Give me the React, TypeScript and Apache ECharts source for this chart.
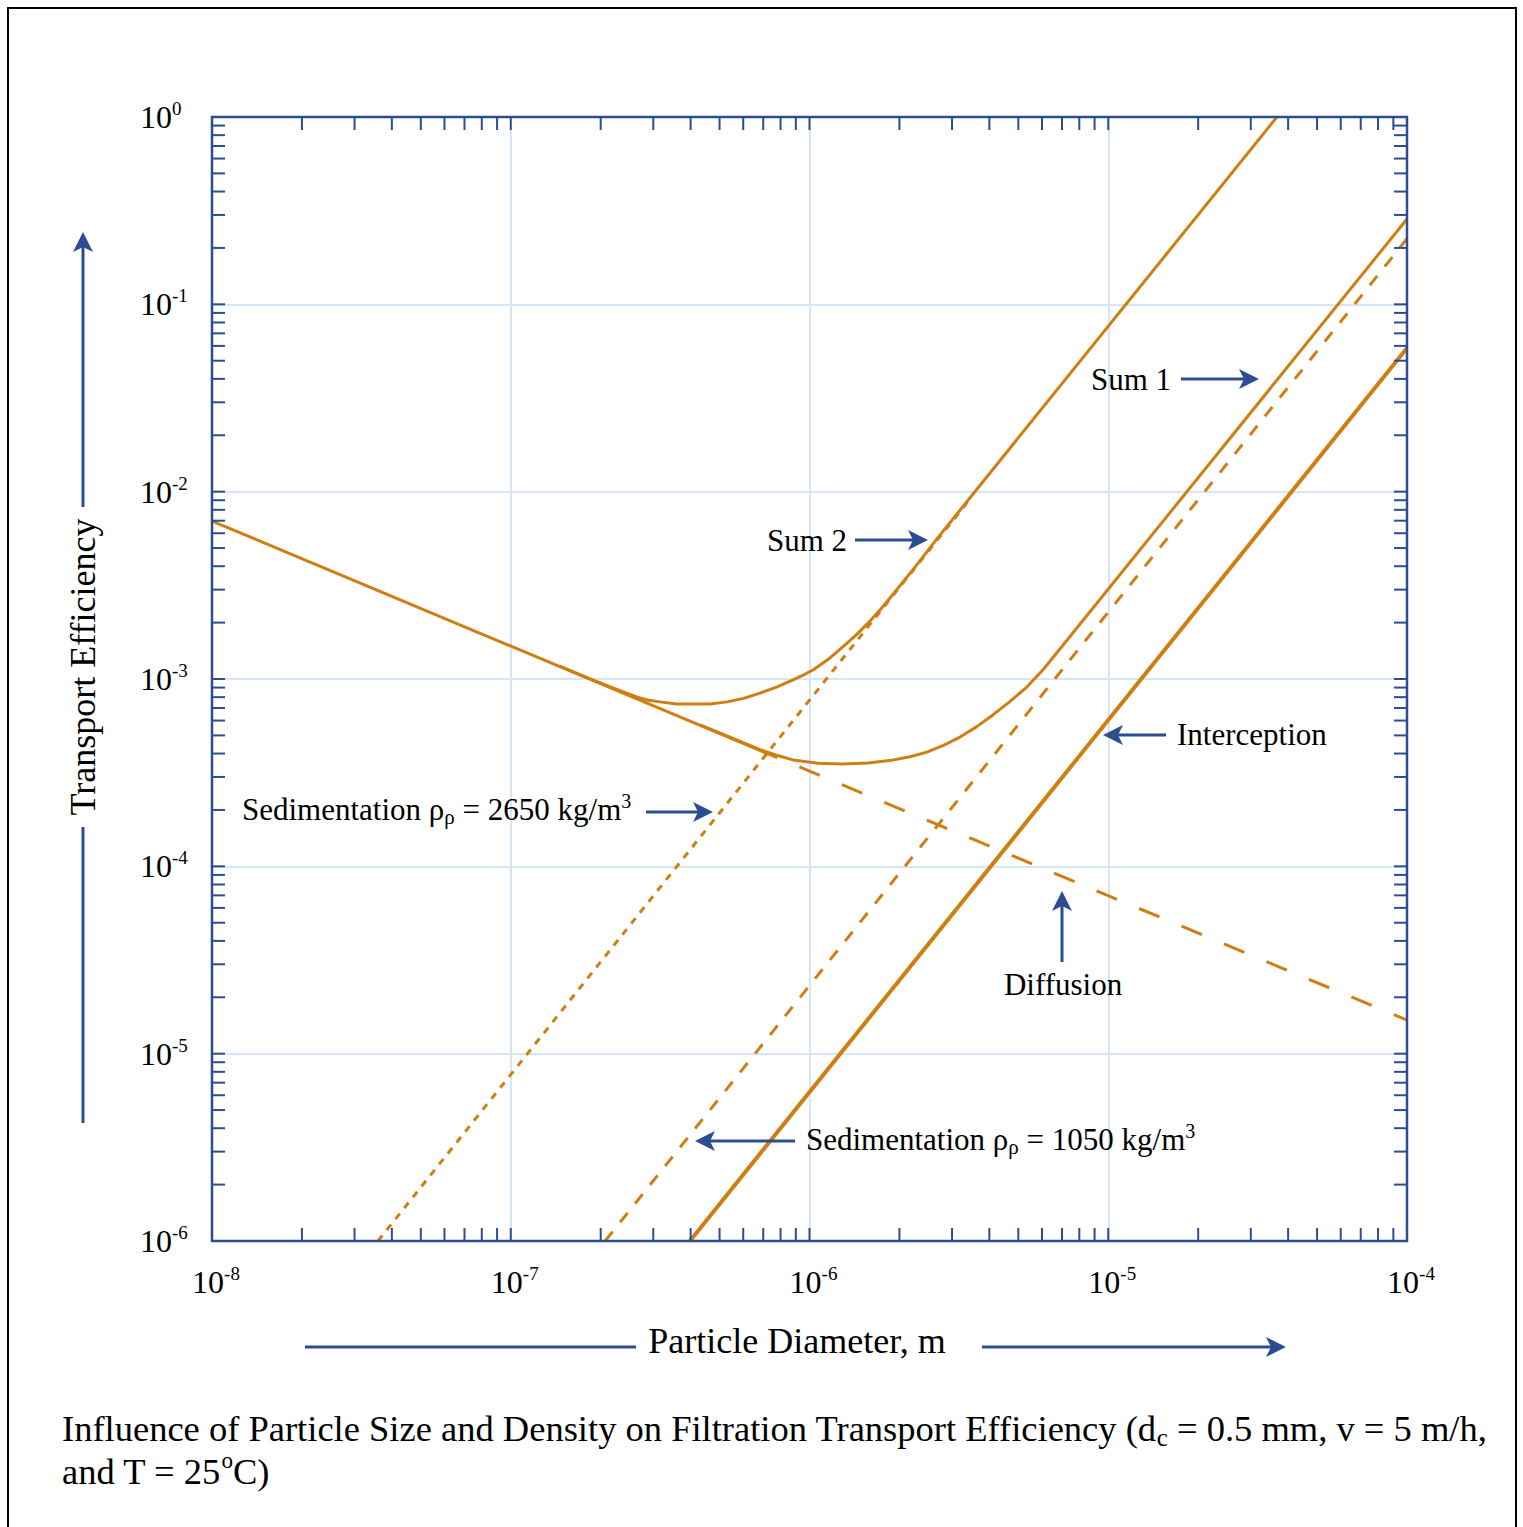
import React, { useEffect, useRef } from "react";
import * as echarts from "echarts";

const FONT = "'Liberation Serif', 'Times New Roman', Times, serif";
const ORANGE = "#CF7F11";
const BLUE = "#2C4D91";
const GRIDC = "#D5E6F7";

// ---- data ----
const diffusionSolidX = [1e-8, 7.8e-7];
const diffusionSolidY = [6.97e-3, 3.8e-4];
const diffusionDashX = [7.8e-7, 1e-4];
const diffusionDashY = [3.8e-4, 1.51e-5];
const interceptionX = [3.98e-7, 1e-4];
const interceptionY = [1e-6, 5.85e-2];
const sed1050X = [2.07e-7, 1e-4];
const sed1050Y = [1e-6, 0.224];
const sed2650X = [3.594e-8, 3.4e-6];
const sed2650Y = [1e-6, 8.9e-3];
const sum1X = [
  4.3e-7, 5.42e-7, 6.83e-7, 7.757e-7, 8.81e-7, 1.066e-6, 1.29e-6, 1.569e-6, 1.91e-6, 2.172e-6,
  2.47e-6, 2.807e-6, 3.19e-6, 3.621e-6, 4.11e-6, 4.683e-6, 5.34e-6, 6.069e-6, 6.9e-6, 1e-4,
];
const sum1Y = [
  5.69e-4, 4.887e-4, 4.2e-4, 3.918e-4, 3.7e-4, 3.551e-4, 3.52e-4, 3.563e-4, 3.7e-4, 3.849e-4,
  4.07e-4, 4.42e-4, 4.9e-4, 5.553e-4, 6.43e-4, 7.57e-4, 9.06e-4, 1.128e-3, 1.45e-3, 0.2855,
];
const sum2X = [
  1.46e-7, 1.657e-7, 1.88e-7, 2.232e-7, 2.65e-7, 2.893e-7, 3.16e-7, 3.585e-7, 4.07e-7, 4.645e-7,
  5.3e-7, 6.015e-7, 6.83e-7, 7.757e-7, 8.81e-7, 9.526e-7, 1.03e-6, 1.153e-6, 1.29e-6, 1.437e-6,
  1.6e-6, 1.748e-6, 1.91e-6, 2.258e-6, 2.67e-6, 3.67e-5,
];
const sum2Y = [
  1.17e-3, 1.074e-3, 9.9e-4, 8.87e-4, 8.0e-4, 7.698e-4, 7.55e-4, 7.356e-4, 7.35e-4, 7.356e-4,
  7.55e-4, 7.88e-4, 8.4e-4, 9.055e-4, 9.9e-4, 1.048e-3, 1.12e-3, 1.27e-3, 1.48e-3, 1.726e-3,
  2.05e-3, 2.4e-3, 2.85e-3, 3.967e-3, 5.6e-3, 1.0,
];

const xMin = 1e-8, xMax = 1e-4, yMin = 1e-6, yMax = 1;
const mantissas = [1, 2, 3, 4, 5, 6, 7, 8, 9];
const xTickDecades = [-8, -7, -6, -5];
const yTickDecades = [-6, -5, -4, -3, -2, -1];

function tickValues(decs: number[]) {
  const out: number[] = [];
  decs.forEach((e, i) =>
    mantissas.forEach((m) => {
      if (!(i === 0 && m === 1)) out.push(m * Math.pow(10, e));
    })
  );
  return out;
}

const zip = (xs: number[], ys: number[]) => xs.map((x, i) => [x, ys[i]]);

const tickRich = {
  b: { fontSize: 32, fontFamily: FONT, color: "#000", lineHeight: 36 },
  s: { fontSize: 19, fontFamily: FONT, color: "#000", lineHeight: 29, verticalAlign: "top" },
};

const annRich = {
  t: { fontSize: 31, fontFamily: FONT, fill: "#000", color: "#000", lineHeight: 36 },
  sub: { fontSize: 21, fontFamily: FONT, fill: "#000", color: "#000", lineHeight: 16, verticalAlign: "bottom" },
  sup: { fontSize: 20, fontFamily: FONT, fill: "#000", color: "#000", lineHeight: 28, verticalAlign: "top" },
};

const capRich = {
  t: { fontSize: 36.5, fontFamily: FONT, fill: "#000", color: "#000", lineHeight: 44 },
  sub: { fontSize: 25, fontFamily: FONT, fill: "#000", color: "#000", lineHeight: 20, verticalAlign: "bottom" },
  sup: { fontSize: 23, fontFamily: FONT, fill: "#000", color: "#000", lineHeight: 24, verticalAlign: "top" },
};

function txt(x: number, y: number, text: string, rich: any, align = "left", extra: any = {}) {
  return {
    type: "text",
    x,
    y,
    z: 20,
    silent: true,
    ...extra,
    style: {
      text,
      x: 0,
      y: 0,
      fill: "#000",
      fontSize: 31,
      fontFamily: FONT,
      align,
      verticalAlign: "middle",
      textAlign: align,
      textVerticalAlign: "middle",
      rich,
    },
  };
}

function arrow(x1: number, y1: number, x2: number, y2: number) {
  const ang = Math.atan2(y2 - y1, x2 - x1);
  const L = 20, W = 10, N = 15;
  const ux = Math.cos(ang), uy = Math.sin(ang);
  const px = -uy, py = ux;
  const bx = x2 - ux * L, by = y2 - uy * L;
  const nx = x2 - ux * N, ny = y2 - uy * N;
  return [
    { type: "line", z: 20, silent: true, shape: { x1, y1, x2: nx, y2: ny }, style: { stroke: BLUE, lineWidth: 3 } },
    {
      type: "polygon",
      z: 20,
      silent: true,
      shape: { points: [[x2, y2], [bx + px * W, by + py * W], [nx, ny], [bx - px * W, by - py * W]] },
      style: { fill: BLUE },
    },
  ];
}

function seg(x1: number, y1: number, x2: number, y2: number, color = BLUE, w = 3) {
  return { type: "line", z: 20, silent: true, shape: { x1, y1, x2, y2 }, style: { stroke: color, lineWidth: w } };
}

export default function App() {
  const ref = useRef<HTMLDivElement>(null);

  useEffect(() => {
    const el = ref.current!;
    const chart = echarts.init(el, null, { renderer: "svg" });
    const expLabel = (v: number) => `{b|10}{s|${Math.round(Math.log10(v))}}`;
    const lineSeries = (name: string, data: number[][], width: number, type: any, extra: any = {}) => ({
      name,
      type: "line",
      data,
      symbol: "none",
      showSymbol: false,
      silent: true,
      smooth: false,
      emphasis: { disabled: true },
      lineStyle: { color: ORANGE, width, type, cap: "butt", join: "round", ...(extra.lineStyle || {}) },
    });

    chart.setOption({
      animation: false,
      backgroundColor: "#fff",
      grid: { left: 212, top: 117, width: 1195, height: 1124, show: false, containLabel: false },
      xAxis: {
        type: "log",
        logBase: 10,
        min: xMin,
        max: xMax,
        splitNumber: 4,
        axisLine: { show: false },
        axisTick: { show: false },
        splitLine: { show: true, lineStyle: { color: GRIDC, width: 2 } },
        axisLabel: {
          formatter: expLabel,
          margin: 23,
          padding: [0, 0, 0, 8],
          rich: tickRich,
          showMinLabel: true,
          showMaxLabel: true,
        },
      },
      yAxis: {
        type: "log",
        logBase: 10,
        min: yMin,
        max: yMax,
        splitNumber: 6,
        axisLine: { show: false },
        axisTick: { show: false },
        splitLine: { show: true, lineStyle: { color: GRIDC, width: 2 } },
        axisLabel: {
          formatter: expLabel,
          margin: 72,
          align: "left",
          rich: tickRich,
          showMinLabel: true,
          showMaxLabel: true,
        },
      },
      series: [
        lineSeries("Diffusion", zip(diffusionSolidX, diffusionSolidY), 3, "solid"),
        lineSeries("Diffusion (dashed)", zip(diffusionDashX, diffusionDashY), 3, [22, 24], { lineStyle: { dashOffset: 22 } }),
        lineSeries("Interception", zip(interceptionX, interceptionY), 4, "solid"),
        lineSeries("Sedimentation 1050", zip(sed1050X, sed1050Y), 3, [12, 12]),
        lineSeries("Sedimentation 2650", zip(sed2650X, sed2650Y), 3, [7, 7]),
        lineSeries("Sum 1", zip(sum1X, sum1Y), 3, "solid"),
        lineSeries("Sum 2", zip(sum2X, sum2Y), 3, "solid"),
      ],
    });

    const gx = (v: number) => chart.convertToPixel({ xAxisIndex: 0 }, v) as number;
    const gy = (v: number) => chart.convertToPixel({ yAxisIndex: 0 }, v) as number;
    const x0 = gx(xMin), x1 = gx(xMax), y0 = gy(yMax), y1 = gy(yMin);
    const TL = 13;
    const els: any[] = [];

    // outer frame
    els.push({
      type: "rect",
      z: 30,
      silent: true,
      shape: { x: 8, y: 8, width: 1508, height: 1600 },
      style: { fill: "none", stroke: "#000", lineWidth: 2 },
    });

    // minor / major ticks on all four sides
    tickValues(xTickDecades).forEach((v) => {
      const p = gx(v);
      els.push(seg(p, y1, p, y1 - TL, BLUE, 2));
      els.push(seg(p, y0, p, y0 + TL, BLUE, 2));
    });
    tickValues(yTickDecades).forEach((v) => {
      const p = gy(v);
      els.push(seg(x0, p, x0 + TL, p, BLUE, 2));
      els.push(seg(x1, p, x1 - TL, p, BLUE, 2));
    });

    // plot frame
    els.push({
      type: "rect",
      z: 25,
      silent: true,
      shape: { x: x0, y: y0, width: x1 - x0, height: y1 - y0 },
      style: { fill: "none", stroke: BLUE, lineWidth: 2.5 },
    });

    // annotations
    els.push(txt(767, 540, "{t|Sum 2}", annRich));
    els.push(...arrow(855, 540, 928, 540));
    els.push(txt(1091, 379, "{t|Sum 1}", annRich));
    els.push(...arrow(1181, 379, 1259, 379));
    els.push(txt(1177, 734, "{t|Interception}", annRich));
    els.push(...arrow(1166, 735, 1103, 735));
    els.push(txt(1063, 984, "{t|Diffusion}", annRich, "center"));
    els.push(...arrow(1062, 962, 1062, 891));
    els.push(txt(242, 809, "{t|Sedimentation ρ}{sub|ρ}{t| = 2650 kg/m}{sup|3}", annRich));
    els.push(...arrow(646, 812, 713, 812));
    els.push(txt(806, 1139, "{t|Sedimentation ρ}{sub|ρ}{t| = 1050 kg/m}{sup|3}", annRich));
    els.push(...arrow(795, 1141, 695, 1141));

    // axis titles with arrows
    els.push({
      type: "text",
      x: 797,
      y: 1341,
      z: 20,
      silent: true,
      style: {
        text: "Particle Diameter, m",
        fill: "#000",
        fontSize: 36,
        fontFamily: FONT,
        align: "center",
        verticalAlign: "middle",
        textAlign: "center",
        textVerticalAlign: "middle",
      },
    });
    els.push(seg(305, 1347, 636, 1347));
    els.push(...arrow(982, 1347, 1286, 1347));

    els.push({
      type: "text",
      x: 83,
      y: 667,
      rotation: Math.PI / 2,
      z: 20,
      silent: true,
      style: {
        text: "Transport Efficiency",
        fill: "#000",
        fontSize: 36,
        fontFamily: FONT,
        align: "center",
        verticalAlign: "middle",
        textAlign: "center",
        textVerticalAlign: "middle",
      },
    });
    els.push(seg(83, 1123, 83, 827));
    els.push(...arrow(83, 507, 83, 232));

    // caption
    els.push(
      txt(
        62,
        1428,
        "{t|Influence of Particle Size and Density on Filtration Transport Efficiency (d}{sub|c}{t| = 0.5 mm, v = 5 m/h,}",
        capRich
      )
    );
    els.push(txt(62, 1471, "{t|and T = 25}{sup|o}{t|C)}", capRich));

    chart.setOption({ graphic: els });

    return () => chart.dispose();
  }, []);

  return (
    <div style={{ position: "fixed", left: 0, top: 0, width: 1523, height: 1527, background: "#fff" }}>
      <div ref={ref} style={{ width: 1523, height: 1527 }} />
    </div>
  );
}
